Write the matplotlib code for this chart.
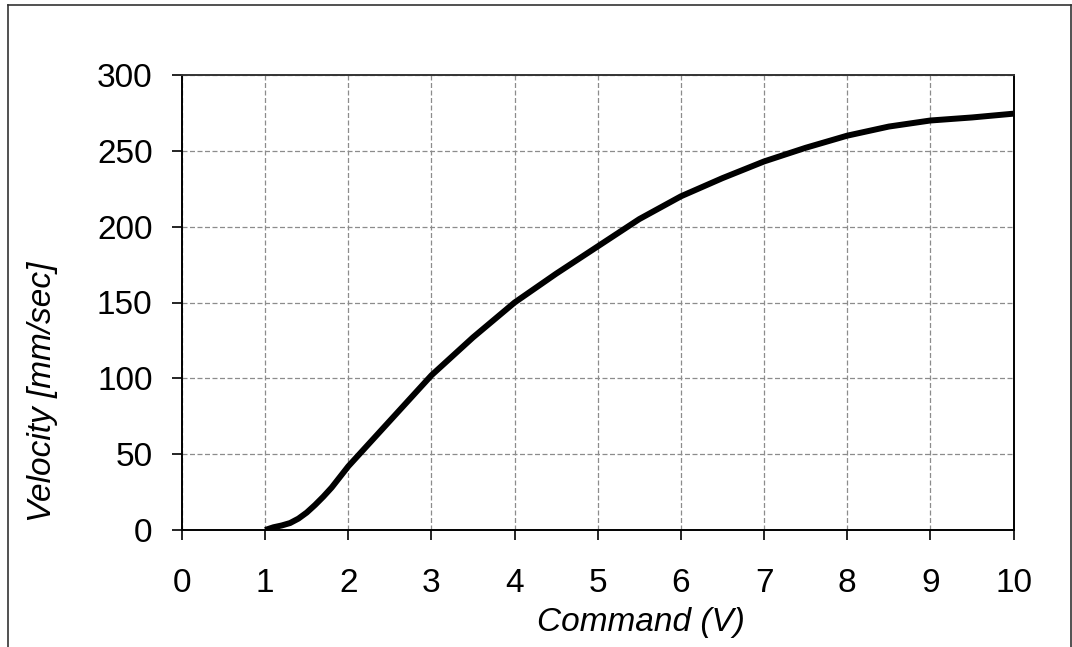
import numpy as np
import matplotlib.pyplot as plt
from matplotlib.lines import Line2D

# Velocity vs. command voltage
command = [1.0, 1.1, 1.2, 1.3, 1.4, 1.5, 1.6, 1.7, 1.8, 2.0, 2.5, 3.0, 3.5,
           4.0, 4.5, 5.0, 5.5, 6.0, 6.5, 7.0, 7.5, 8.0, 8.5, 9.0, 9.5, 10.0]
velocity = [0, 1.8, 3, 4.6, 7.5, 11.5, 16.5, 22, 28, 42, 72, 102, 127,
            150, 169, 187, 205, 220, 232, 243, 252, 260, 266, 270, 272, 274.5]
x_ticks = list(range(0, 11))
y_ticks = list(range(0, 301, 50))

plt.rcParams["font.family"] = ["Liberation Sans", "DejaVu Sans"]

W, H = 1072, 647
fig = plt.figure(figsize=(W / 100, H / 100), dpi=100)
ax = fig.add_axes([182 / W, 1 - 530 / H, (1013.5 - 182) / W, (530 - 75) / H])

ax.plot(command, velocity, color="black", linewidth=4.3,
        solid_capstyle="butt", solid_joinstyle="round", zorder=3)

ax.set_xlim(0, 10)
ax.set_ylim(0, 300)
ax.set_xticks(x_ticks)
ax.set_yticks(y_ticks)
ax.tick_params(axis="both", labelsize=24, direction="out", length=7.2,
               width=1.2, color="black")
ax.tick_params(axis="x", pad=20)
ax.tick_params(axis="y", pad=14)

ax.grid(True, color="#8c8c8c", linestyle=(0, (4, 2)), linewidth=0.9)
ax.set_axisbelow(True)

for side in ["left", "bottom", "right"]:
    ax.spines[side].set_color("black")
    ax.spines[side].set_linewidth(1.4)
ax.spines["top"].set_color("#333333")
ax.spines["top"].set_linestyle((0, (4, 1)))
ax.spines["top"].set_linewidth(1.4)

# axis titles sit where the reference puts them (not centred on the axes)
fig.text(641 / W, 1 - 623 / H, "Command (V)", fontsize=24, style="italic",
         ha="center", va="center")
fig.text(43 / W, 1 - 392 / H, "Velocity [mm/sec]", fontsize=24,
         style="italic", rotation=90, ha="center", va="center")

# outer chart frame (left, top and right edges)
fx0, fx1, fy1 = 8 / W, 1070.5 / W, 1 - 5 / H
for xs, ys in [([fx0, fx0], [0, fy1]), ([fx0, fx1], [fy1, fy1]),
               ([fx1, fx1], [0, fy1])]:
    fig.add_artist(Line2D(xs, ys, transform=fig.transFigure,
                          color="#333333", linewidth=1.2))

fig.savefig("out.png", dpi=100)
